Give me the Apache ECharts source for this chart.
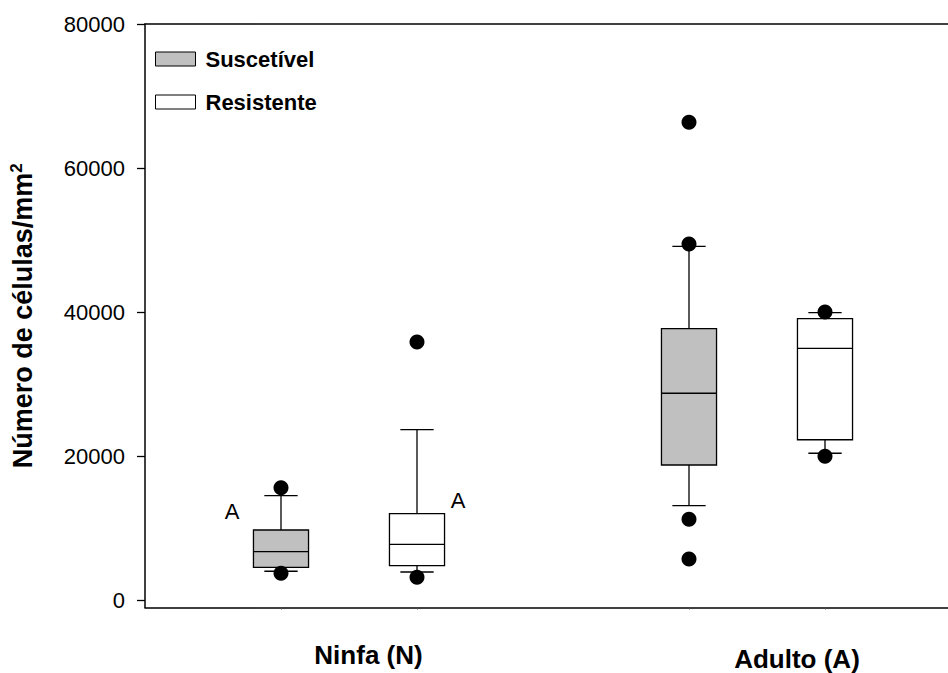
<!DOCTYPE html>
<html>
<head>
<meta charset="utf-8">
<script src="https://cdn.jsdelivr.net/npm/echarts@6/dist/echarts.min.js"></script>
<style>
html,body{margin:0;padding:0;background:#fff;}
#chart{width:948px;height:673px;}
</style>
</head>
<body>
<div id="chart"></div>
<script>
// ---- data ----
const slots = ['', 'Ninfa-S', 'Ninfa-R', '', 'Adulto-S', 'Adulto-R', ''];
const groupLabels = ['Ninfa (N)', 'Adulto (A)'];
const seriesNames = ['Suscetível', 'Resistente'];
const yTicks = [0, 20000, 40000, 60000, 80000];
// [slot, whiskerLow, Q1, median, Q3, whiskerHigh]
const suscetivelBox = [[1, 4030, 4580, 6750, 9760, 14520], [4, 13130, 18780, 28740, 37700, 49140]];
const resistenteBox = [[2, 3930, 4800, 7770, 12020, 23680], [5, 20410, 22290, 34980, 39090, 39920]];
// outliers [slot, value]
const suscetivelOut = [[1, 15630], [1, 3750], [4, 66350], [4, 49460], [4, 11240], [4, 5730]];
const resistenteOut = [[2, 35860], [2, 3190], [5, 40020], [5, 19990]];
const letterLabels = ['A', 'A'];

const FONT = "'Liberation Sans', Arial, Helvetica, sans-serif";

function renderBox(params, api) {
  const x = api.value(0);
  const lo = api.coord([x, api.value(1)]);
  const q1 = api.coord([x, api.value(2)]);
  const med = api.coord([x, api.value(3)]);
  const q3 = api.coord([x, api.value(4)]);
  const hi = api.coord([x, api.value(5)]);
  const band = api.size([1, 0])[0];
  const bw = band * 0.405;
  const cw = band * 0.245;
  const cx = q1[0];
  const stroke = {stroke: '#000', lineWidth: 1.3};
  return {
    type: 'group',
    children: [
      {type: 'line', shape: {x1: cx, y1: q3[1], x2: cx, y2: hi[1]}, style: stroke},
      {type: 'line', shape: {x1: cx, y1: q1[1], x2: cx, y2: lo[1]}, style: stroke},
      {type: 'line', shape: {x1: cx - cw / 2, y1: hi[1], x2: cx + cw / 2, y2: hi[1]}, style: stroke},
      {type: 'line', shape: {x1: cx - cw / 2, y1: lo[1], x2: cx + cw / 2, y2: lo[1]}, style: stroke},
      {type: 'rect', shape: {x: cx - bw / 2, y: q3[1], width: bw, height: q1[1] - q3[1]},
        style: {fill: api.visual('color'), stroke: '#000', lineWidth: 1.3}},
      {type: 'line', shape: {x1: cx - bw / 2, y1: med[1], x2: cx + bw / 2, y2: med[1]}, style: stroke}
    ]
  };
}

const chart = echarts.init(document.getElementById('chart'), null, {renderer: 'svg'});
chart.setOption({
  backgroundColor: '#fff',
  animation: false,
  textStyle: {fontFamily: FONT},
  grid: {left: 145, width: 816, top: 24, bottom: 65.5, containLabel: false, outerBoundsMode: 'none'},
  legend: {
    orient: 'vertical', left: 155, top: 48, padding: 0, itemWidth: 40, itemHeight: 14, itemGap: 21,
    icon: 'rect', selectedMode: false,
    textStyle: {fontFamily: FONT, fontSize: 22, fontWeight: 'bold', color: '#000', padding: [0, 0, 0, 5]},
    data: [
      {name: seriesNames[0], itemStyle: {color: '#c0c0c0', borderColor: '#000', borderWidth: 1}},
      {name: seriesNames[1], itemStyle: {color: '#ffffff', borderColor: '#000', borderWidth: 1}}
    ]
  },
  xAxis: [
    {
      type: 'category', data: slots, boundaryGap: false, position: 'bottom',
      axisLine: {onZero: false, lineStyle: {color: '#000', width: 1.5}},
      axisTick: {show: true, length: 2, interval: (i) => [1, 2, 4, 5].includes(i), lineStyle: {color: '#555'}},
      axisLabel: {show: false}, splitLine: {show: false}
    },
    {
      type: 'category', data: slots, boundaryGap: false, position: 'top',
      axisLine: {onZero: false, lineStyle: {color: '#000', width: 1.5}},
      axisTick: {show: false}, axisLabel: {show: false}, splitLine: {show: false}
    }
  ],
  yAxis: {
    type: 'value', min: -1000, max: 80000,
    axisLine: {show: true, lineStyle: {color: '#000', width: 1.5}},
    axisTick: {show: true, length: 8, customValues: yTicks, lineStyle: {color: '#000', width: 1.3}},
    axisLabel: {customValues: yTicks, fontSize: 22, color: '#000', margin: 20, fontFamily: FONT,
      formatter: (v) => String(v)},
    splitLine: {show: false},
    name: 'Número de células/mm{sup|2}', nameLocation: 'middle', nameGap: 107,
    nameTextStyle: {fontSize: 27, fontWeight: 'bold', color: '#000', fontFamily: FONT, lineHeight: 30,
      rich: {sup: {fontSize: 17, fontWeight: 'bold', fontFamily: FONT, color: '#000', verticalAlign: 'top', lineHeight: 30}}}
  },
  series: [
    {name: seriesNames[0], type: 'custom', renderItem: renderBox, itemStyle: {color: '#c0c0c0'},
      encode: {x: 0, y: [1, 2, 3, 4, 5]}, data: suscetivelBox, z: 2},
    {name: seriesNames[1], type: 'custom', renderItem: renderBox, itemStyle: {color: '#ffffff'},
      encode: {x: 0, y: [1, 2, 3, 4, 5]}, data: resistenteBox, z: 2},
    {name: 'outS', type: 'scatter', symbol: 'circle', symbolSize: 15, itemStyle: {color: '#000', opacity: 1},
      data: suscetivelOut, z: 3},
    {name: 'outR', type: 'scatter', symbol: 'circle', symbolSize: 15, itemStyle: {color: '#000', opacity: 1},
      data: resistenteOut, z: 3}
  ],
  graphic: [
    {type: 'text', x: 368.5, y: 655, style: {text: groupLabels[0], fill: '#000', font: 'bold 26px ' + FONT, textAlign: 'center', textVerticalAlign: 'middle'}},
    {type: 'text', x: 797, y: 658.5, style: {text: groupLabels[1], fill: '#000', font: 'bold 26px ' + FONT, textAlign: 'center', textVerticalAlign: 'middle'}},
    {type: 'text', x: 232, y: 511, style: {text: letterLabels[0], fill: '#000', font: '22px ' + FONT, textAlign: 'center', textVerticalAlign: 'middle'}},
    {type: 'text', x: 458, y: 500, style: {text: letterLabels[1], fill: '#000', font: '22px ' + FONT, textAlign: 'center', textVerticalAlign: 'middle'}}
  ]
});
</script>
</body>
</html>
